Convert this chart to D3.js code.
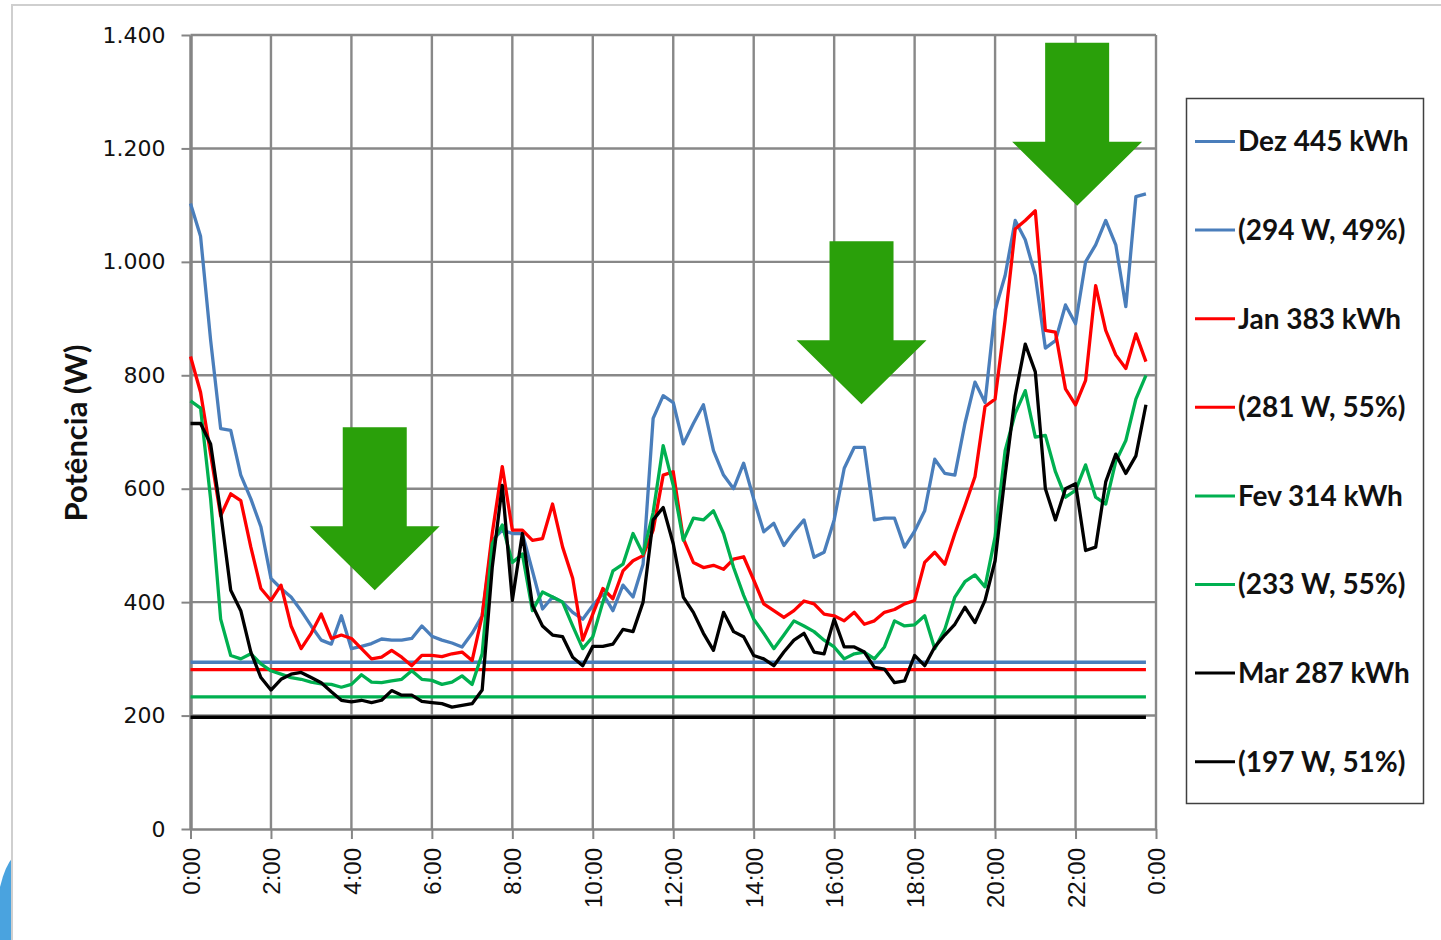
<!DOCTYPE html>
<html>
<head>
<meta charset="utf-8">
<script src="https://cdnjs.cloudflare.com/ajax/libs/d3/7.8.5/d3.min.js"></script>
<style>
  body { margin: 0; background: #fff; }
  svg { display: block; }
</style>
</head>
<body>
<svg id="chart" width="1441" height="940"></svg>
<script>
// 15-minute readings (W), 0:00 .. 23:45
const dez = [1103, 1045, 862, 706, 703, 624, 582, 533, 442, 424, 409, 385, 358, 333, 326, 376, 318, 322, 327, 335, 333, 333, 336, 358,
  340, 333, 328, 321, 345, 376, 509, 527, 521, 521, 455, 388, 409, 400, 382, 370, 394, 415, 385, 430, 409, 467, 724, 764,
  752, 679, 715, 748, 667, 624, 600, 645, 582, 524, 539, 500, 524, 545, 479, 488, 545, 636, 673, 673, 545, 548, 548, 497,
  525, 561, 652, 627, 624, 715, 788, 752, 915, 976, 1073, 1039, 976, 848, 861, 924, 891, 1000, 1030, 1073, 1030, 921, 1115, 1120];
const jan = [833, 770, 661, 552, 591, 579, 497, 424, 403, 430, 358, 318, 345, 379, 336, 342, 336, 318, 300, 303, 315, 303, 288, 306,
  306, 304, 309, 312, 297, 376, 521, 639, 527, 527, 509, 512, 573, 497, 442, 333, 379, 424, 406, 455, 473, 482, 527, 624,
  630, 512, 470, 461, 465, 458, 476, 480, 439, 397, 385, 373, 385, 402, 397, 379, 376, 367, 382, 361, 367, 382, 387, 397,
  403, 470, 488, 467, 521, 570, 621, 745, 758, 897, 1058, 1073, 1090, 879, 876, 776, 748, 791, 958, 879, 836, 812, 873, 824];
const fev = [755, 742, 582, 370, 306, 300, 309, 291, 279, 273, 267, 264, 259, 256, 255, 250, 255, 272, 259, 258, 261, 264, 279, 264,
  262, 255, 259, 270, 255, 309, 503, 536, 470, 485, 385, 418, 409, 400, 358, 318, 339, 400, 455, 467, 521, 485, 558, 676,
  606, 509, 548, 545, 561, 521, 461, 412, 370, 345, 318, 342, 367, 358, 348, 333, 321, 300, 309, 312, 300, 321, 367, 358,
  360, 376, 318, 352, 409, 436, 448, 427, 515, 667, 733, 773, 691, 694, 630, 585, 597, 642, 585, 573, 648, 685, 758, 800];
const mar = [715, 715, 679, 558, 421, 385, 312, 267, 245, 264, 273, 276, 267, 258, 242, 227, 224, 227, 223, 227, 244, 236, 236, 225,
  223, 221, 215, 218, 221, 245, 461, 606, 403, 521, 394, 358, 342, 339, 303, 288, 322, 322, 326, 352, 348, 400, 545, 567,
  503, 409, 382, 345, 315, 382, 348, 339, 306, 300, 288, 312, 333, 345, 312, 309, 370, 321, 321, 312, 285, 282, 258, 261,
  306, 288, 321, 342, 361, 391, 364, 403, 473, 624, 764, 855, 806, 600, 545, 600, 609, 491, 497, 612, 661, 627, 658, 748];

const averages = [294, 281, 233, 197];
const seriesColors = ["#4a7ebb", "#ff0000", "#00b050", "#000000"];
const legendLabels = ["Dez 445 kWh", "(294 W, 49%)", "Jan 383 kWh", "(281 W, 55%)",
  "Fev 314 kWh", "(233 W, 55%)", "Mar 287 kWh", "(197 W, 51%)"];
const yTicks = [0, 200, 400, 600, 800, 1000, 1200, 1400];
const xTicks = [0, 2, 4, 6, 8, 10, 12, 14, 16, 18, 20, 22, 24];
// arrows: centre hour and the value the tip points at
const arrows = [{ hour: 4.58, tip: 421 }, { hour: 16.68, tip: 749 }, { hour: 22.04, tip: 1099 }];

const svg = d3.select("#chart");
const margin = { top: 35, left: 190.5, right: 285, bottom: 111 };
const width = 1441 - margin.left - margin.right;
const height = 940 - margin.top - margin.bottom;

const x = d3.scaleLinear().domain([0, 24]).range([margin.left, margin.left + width]);
const y = d3.scaleLinear().domain([0, 1400]).range([margin.top + height, margin.top]);

const pt = d3.formatLocale({ decimal: ",", thousands: ".", grouping: [3], currency: ["", ""] });
const fmt = pt.format(",");

// slide frame bits
svg.append("path")
  .attr("d", "M0,887 Q5,866 13,857 L13,940 L0,940 Z")
  .attr("fill", "#4aa3df");
svg.append("path")
  .attr("d", "M12,940 L12,5 L1441,5")
  .attr("fill", "none")
  .attr("stroke", "#cfcfcf")
  .attr("stroke-width", 2);

// gridlines
const grid = svg.append("g").attr("stroke", "#888").attr("stroke-width", 2.4);
grid.selectAll(".hg").data(yTicks.filter(d => d > 0)).enter().append("line")
  .attr("x1", x(0)).attr("x2", x(24))
  .attr("y1", d => y(d)).attr("y2", d => y(d));
grid.selectAll(".vg").data(xTicks.filter(d => d > 0)).enter().append("line")
  .attr("x1", d => x(d)).attr("x2", d => x(d))
  .attr("y1", y(0)).attr("y2", y(1400));

// axes
const yAxis = svg.append("g")
  .attr("transform", "translate(" + margin.left + ",0)")
  .call(d3.axisLeft(y).tickValues(yTicks).tickSize(9).tickSizeOuter(0).tickPadding(16).tickFormat(fmt));
yAxis.select(".domain").attr("stroke", "#858585").attr("stroke-width", 3.5);
yAxis.selectAll(".tick line").attr("stroke", "#858585").attr("stroke-width", 2);
yAxis.selectAll("text")
  .attr("font-family", "DejaVu Sans")
  .attr("font-size", 22)
  .attr("fill", "#111");

const xAxis = svg.append("g")
  .attr("transform", "translate(0," + y(0) + ")")
  .call(d3.axisBottom(x).tickValues(xTicks).tickSize(10).tickSizeOuter(0).tickFormat(h => (h % 24) + ":00"));
xAxis.select(".domain").attr("stroke", "#858585").attr("stroke-width", 2.5);
xAxis.selectAll(".tick line").attr("stroke", "#858585").attr("stroke-width", 2);
xAxis.selectAll("text")
  .attr("font-family", "Liberation Sans")
  .attr("font-size", 24)
  .attr("fill", "#111")
  .attr("transform", "rotate(-90)")
  .attr("text-anchor", "end")
  .attr("x", -19)
  .attr("y", 0)
  .attr("dy", "0.36em");

svg.append("text")
  .attr("transform", "translate(87,433) rotate(-90)")
  .attr("text-anchor", "middle")
  .attr("font-family", "Lato")
  .attr("font-weight", "bold")
  .attr("font-size", 31)
  .attr("fill", "#111")
  .text("Potência (W)");

// series
const line = d3.line()
  .x((d, i) => x(i / 4))
  .y(d => y(d));

const curves = [dez, jan, fev, mar];
const plot = svg.append("g").attr("fill", "none").attr("stroke-width", 3.3).attr("stroke-linejoin", "round");
curves.forEach((c, k) => {
  plot.append("path")
    .datum(c)
    .attr("stroke", seriesColors[k])
    .attr("d", line);
  plot.append("line")
    .attr("x1", x(0)).attr("x2", x(95 / 4))
    .attr("y1", y(averages[k])).attr("y2", y(averages[k]))
    .attr("stroke", seriesColors[k]);
});

// arrows (px shape, placed by data)
const arrowPath = (cx, tipY) => {
  const top = tipY - 163, neck = tipY - 64;
  return "M" + (cx - 32) + "," + top + "L" + (cx + 32) + "," + top +
    "L" + (cx + 32) + "," + neck + "L" + (cx + 65) + "," + neck +
    "L" + cx + "," + tipY + "L" + (cx - 65) + "," + neck +
    "L" + (cx - 32) + "," + neck + "Z";
};
svg.append("g").selectAll("path").data(arrows).enter().append("path")
  .attr("d", d => arrowPath(x(d.hour), y(d.tip)))
  .attr("fill", "#2aa00a");

// legend
const legend = svg.append("g");
legend.append("rect")
  .attr("x", 1186.5).attr("y", 98.5)
  .attr("width", 237).attr("height", 705)
  .attr("fill", "#fff")
  .attr("stroke", "#404040")
  .attr("stroke-width", 1.5);
const rows = legend.selectAll(".row").data(legendLabels).enter().append("g")
  .attr("transform", (d, i) => "translate(1195," + (141.5 + i * 88.6) + ")");
rows.append("line")
  .attr("x1", 0).attr("x2", 40)
  .attr("stroke", (d, i) => seriesColors[Math.floor(i / 2)])
  .attr("stroke-width", 3);
rows.append("text")
  .attr("x", 43)
  .attr("dy", "0.35em")
  .attr("font-family", "Lato")
  .attr("font-weight", "bold")
  .attr("font-size", 28)
  .attr("fill", "#111")
  .text(d => d);
</script>
</body>
</html>
